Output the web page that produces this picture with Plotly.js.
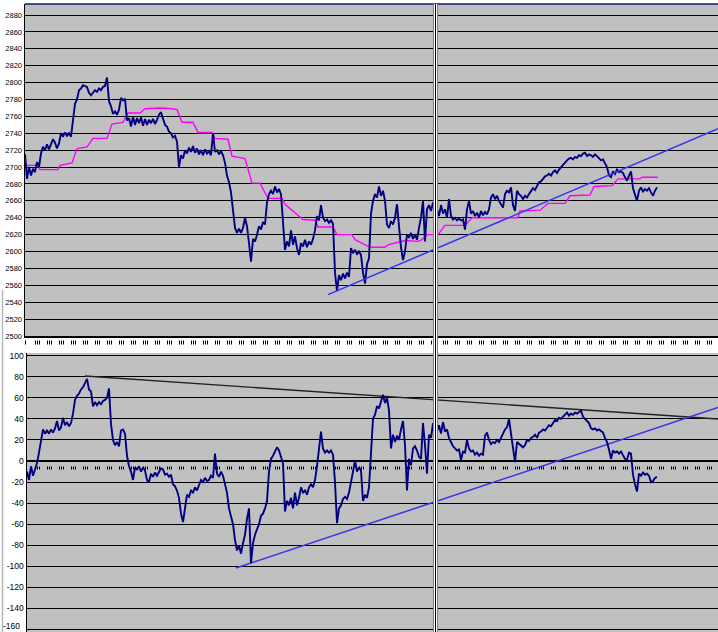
<!DOCTYPE html>
<html>
<head>
<meta charset="utf-8">
<script src="https://cdn.plot.ly/plotly-3.0.1.min.js"></script>
<style>
  html, body { margin: 0; padding: 0; background: #ffffff; }
  #chart { width: 718px; height: 632px; }
</style>
</head>
<body>
<div id="chart"></div>
<script>
// ---- Data (x = session index, 1 unit per 2 px of the original) ----
// Upper panel: index level (navy), one value per session starting at session 0
const indexLevel = [
  2715,2686,2700,2690,2698,2694,2706,2700,2716,2724,2720,2727,2721,2726,2733,2729,2722,2728,2740,2736,2741,2737,2740,2736,
  2760,2775,2780,2791,2793,2797,2796,2795,2788,2785,2788,2791,2789,2793,2791,2795,2796,2806,2778,2772,2763,2766,2762,2768,
  2782,2779,2781,2755,2758,2748,2760,2750,2758,2752,2759,2749,2757,2750,2756,2752,2757,2751,2756,2762,2765,2758,2750,2748,
  2742,2740,2735,2737,2730,2700,2714,2710,2720,2716,2723,2718,2725,2717,2722,2715,2720,2714,2721,2716,2719,2714,2740,2718,
  2720,2715,2719,2714,2705,2690,2682,2670,2645,2628,2622,2627,2622,2628,2640,2630,2610,2588,2615,2612,2620,2630,2626,2635,
  2632,2658,2668,2672,2668,2677,2670,2674,2668,2640,2602,2612,2606,2625,2608,2618,2604,2596,2610,2606,2614,2605,2612,2608,
  2615,2625,2642,2637,2655,2640,2636,2638,2634,2637,2633,2575,2553,2572,2566,2574,2568,2575,2570,2604,2598,2602,2597,2600,
  2596,2575,2562,2585,2592,2645,2660,2668,2664,2677,2666,2672,2660,2632,2628,2636,2632,2640,2656,2630,2605,2590,2600,2620,
  2617,2622,2615,2620,2614,2628,2640,2660,2612,2650,2655,2648,2658,2655,2650,2642,2655,2645,2650,2640,2662,2642,2638,2640,
  2637,2639,2637,2638,2626,2650,2660,2645,2648,2642,2646,2640,2648,2643,2647,2644,2650,2664,2668,2662,2666,2660,2655,2652,
  2668,2672,2670,2676,2655,2648,2672,2668,2666,2662,2666,2664,2668,2672,2675,2673,2678,2682,2683,2686,2689,2690,2692,2690,
  2694,2696,2693,2697,2700,2703,2706,2708,2710,2711,2709,2712,2711,2714,2713,2716,2717,2713,2715,2714,2712,2715,2713,2710,
  2708,2709,2704,2700,2690,2688,2695,2692,2697,2694,2695,2693,2688,2684,2690,2695,2675,2668,2660,2672,2676,2671,2674,2672,
  2675,2670,2666,2672,2676
];

// Upper panel: stepped average (magenta)
const avgX = [0,6.5,7.5,16.5,17.5,23.5,26,31,34,41,43.5,49,51.5,57.5,60,67.5,73.5,76,78.5,84,
  86.5,93.5,95,101.5,103.5,110,113.5,117.5,121.5,128.5,130,139,145,146.5,154,156,163.5,165,172.5,180,
  181.5,190,196.5,198.5,201,206.5,210,220,223.5,246.5,247.5,257.5,261.5,270,272.5,282.5,284.5,293.5,296.5,307.5,
  308.5,316.5];
const avgY = [2702,2702,2697,2697,2702,2705,2722,2724,2734,2734,2751,2753,2764,2764,2769,2770,2769,2768,2753,2753,
  2741,2741,2734,2733,2713,2710,2681,2681,2663,2663,2656,2638,2637,2629,2629,2620,2620,2614,2605,2605,
  2608,2613,2612,2614,2620,2620,2631,2631,2640,2640,2648,2649,2657,2657,2666,2667,2677,2678,2686,2686,
  2688,2688];

// Upper panel trend line
const upTrendX = [151.5, 346.5];
const upTrendY = [2549, 2745.5];

// Lower panel: oscillator (navy), starting at session 1
const oscStart = 1;
const oscillator = [
  -10,-18,-5,-14,-8,-2,8,18,30,26,29,26,30,27,31,38,29,32,41,34,37,33,36,45,
  58,62,64,68,70,74,78,68,66,52,56,53,56,54,57,58,60,69,35,20,15,18,14,29,
  30,26,5,-5,-10,-18,-6,-8,-5,-10,-6,-9,-18,-20,-12,-15,-11,-14,-10,-7,-8,-13,-12,-15,
  -13,-22,-24,-28,-35,-50,-58,-42,-32,-34,-28,-30,-25,-28,-22,-18,-20,-16,-19,-18,-14,-16,7,-12,
  -15,-10,-14,-22,-30,-45,-52,-60,-75,-85,-80,-88,-78,-70,-55,-45,-97,-78,-70,-65,-60,-52,-50,-45,
  -38,-10,2,5,10,13,10,5,-2,-48,-38,-42,-35,-45,-30,-42,-35,-25,-30,-28,-32,-25,-22,-25,
  -18,-5,12,28,12,8,10,8,10,6,-20,-59,-45,-42,-36,-34,-36,-30,-20,-8,0,-10,-6,-9,
  -38,-32,-35,-25,12,40,44,52,50,57,63,55,60,48,12,25,18,24,20,30,38,15,-28,2,
  -4,12,14,10,4,2,36,15,-12,25,22,36,26,28,34,26,37,28,30,22,17,14,12,10,
  11,1,9,8,20,12,9,10,6,8,5,7,6,24,27,20,16,18,17,20,18,22,25,30,
  32,40,26,12,-1,18,16,14,13,15,20,19,22,23,25,22,27,28,30,29,32,34,33,36,
  39,38,41,40,42,44,46,43,45,44,46,45,47,48,42,40,37,36,31,30,31,29,30,28,
  27,22,18,11,2,10,8,9,7,9,6,2,1,8,7,-13,-22,-29,-12,-14,-11,-13,-12,-14,
  -20,-19,-16,-15
];

// Lower panel trend lines
const resistX = [30, 346.5];
const resistY = [80.7, 39.9];
const supportX = [105.5, 346.5];
const supportY = [-101.6, 50.8];

// Tick labels
const upTickVals = [2880,2860,2840,2820,2800,2780,2760,2740,2720,2700,2680,2660,2640,2620,2600,2580,2560,2540,2520,2500];
const upTickText = upTickVals.map(String);
const lowTickVals = [100,80,60,40,20,0,-20,-40,-60,-80,-100,-120,-140];
const lowTickText = ['100','80','60','40','20','0','-20','-40','-60','-80','-100','-120','-140'];
const lowEdgeLabel = '-160'; // bottom label, sits at the window edge

// Session tick marks on the category axes (groups of sessions)
const sessionTicks = [0];
for (let w = 0; w * 6 + 5 < 346; w++) {
  [0, 1, 2].forEach(o => sessionTicks.push(w * 6 + 5 + o));
}

// ---- Geometry helpers (pixel -> paper) ----
const W = 718, H = 632, L = 25;
const px = v => (v - L) / (W - L);
const py = v => (H - v) / H;
const XR = [0, 346.5];
const Y1R = [2500, 2893.1], Y1top = 4, Y1bot = 336;
const Y2R = [-162.4, 102.6], Y2top = 353;

// ---- Build traces ----
const idxX = indexLevel.map((_, i) => i);
const oscX = oscillator.map((_, i) => i + oscStart);
const NAVY = '#000080';

const traces = [
  { x: avgX, y: avgY, xaxis: 'x', yaxis: 'y', mode: 'lines', line: { color: '#FF00FF', width: 1.4 }, hoverinfo: 'skip' },
  { x: idxX, y: indexLevel, xaxis: 'x', yaxis: 'y', mode: 'lines', line: { color: NAVY, width: 1.9 }, hoverinfo: 'skip' },
  { x: upTrendX, y: upTrendY, xaxis: 'x', yaxis: 'y', mode: 'lines', line: { color: '#3535F0', width: 1.5 }, hoverinfo: 'skip' },
  { x: resistX, y: resistY, xaxis: 'x2', yaxis: 'y2', mode: 'lines', line: { color: '#222222', width: 1.4 }, hoverinfo: 'skip' },
  { x: supportX, y: supportY, xaxis: 'x2', yaxis: 'y2', mode: 'lines', line: { color: '#3535F0', width: 1.5 }, hoverinfo: 'skip' },
  { x: oscX, y: oscillator, xaxis: 'x2', yaxis: 'y2', mode: 'lines', line: { color: NAVY, width: 1.9 }, hoverinfo: 'skip' }
];

// Category-axis tick marks: short vertical strokes placed through the x scales
const tickShapes = [];
sessionTicks.forEach(v => {
  const xv = v + 0.25; // centre on a device pixel
  tickShapes.push({ type: 'line', xref: 'x', yref: 'paper', x0: xv, x1: xv, y0: py(344.5), y1: py(340.5),
    line: { color: '#000000', width: 1 } });
  if (v >= 1) {
    tickShapes.push({ type: 'line', xref: 'x2', yref: 'paper', x0: xv, x1: xv, y0: py(469.5), y1: py(466.5),
      line: { color: '#000000', width: 1 } });
  }
});

const font = { family: 'Liberation Sans, Arial, sans-serif', color: '#000000' };

const layout = {
  width: W, height: H,
  margin: { l: L, r: 0, t: 0, b: 0, pad: 0 },
  paper_bgcolor: '#FFFFFF',
  plot_bgcolor: '#C0C0C0',
  showlegend: false,
  font: font,
  xaxis: {
    domain: [0, 1], range: XR, anchor: 'y',
    showgrid: false, zeroline: false, showticklabels: false, ticks: '',
    showline: true, linecolor: '#000000', linewidth: 2
  },
  yaxis: {
    domain: [py(Y1bot), py(Y1top)], range: Y1R, anchor: 'x',
    tickmode: 'array', tickvals: upTickVals, ticktext: upTickText,
    tickfont: Object.assign({ size: 7.5 }, font),
    showgrid: true, gridcolor: '#000000', gridwidth: 1,
    zeroline: false, showline: true, linecolor: '#000000', linewidth: 1.5, ticks: ''
  },
  xaxis2: {
    domain: [px(27), 1], range: [1, 346.5], anchor: 'y2',
    showgrid: false, zeroline: false, showticklabels: false, ticks: '', showline: false
  },
  yaxis2: {
    domain: [0, py(Y2top)], range: Y2R, anchor: 'x2',
    tickmode: 'array', tickvals: lowTickVals, ticktext: lowTickText,
    tickfont: Object.assign({ size: 8.5 }, font),
    showgrid: true, gridcolor: '#000000', gridwidth: 1,
    zeroline: true, zerolinecolor: '#000000', zerolinewidth: 2,
    showline: true, linecolor: '#000000', linewidth: 1.5, ticks: ''
  },
  annotations: [
    { text: lowEdgeLabel, xref: 'paper', yref: 'paper', x: px(20.5), y: 0, xanchor: 'right', yanchor: 'bottom',
      showarrow: false, font: Object.assign({ size: 8.5 }, font), borderpad: 0 }
  ],
  shapes: tickShapes.concat([
    // -160 gridline
    { type: 'line', xref: 'x2', yref: 'y2', x0: 1, x1: 346.5, y0: -160, y1: -160, line: { color: '#000000', width: 1 } },
    // top frame line
    { type: 'line', xref: 'paper', yref: 'paper', x0: 0, x1: 1, y0: py(4), y1: py(4), line: { color: '#0A1A6A', width: 1.5 } },
    // window split
    { type: 'rect', xref: 'paper', yref: 'paper', x0: px(433), x1: px(438), y0: 0, y1: py(4), fillcolor: '#FFFFFF', line: { width: 0 } },
    { type: 'line', xref: 'paper', yref: 'paper', x0: px(433.5), x1: px(433.5), y0: 0, y1: py(4), line: { color: '#808080', width: 1 } },
    { type: 'line', xref: 'paper', yref: 'paper', x0: px(435.5), x1: px(435.5), y0: 0, y1: py(4), line: { color: '#000000', width: 1 } },
    { type: 'line', xref: 'paper', yref: 'paper', x0: px(437.5), x1: px(437.5), y0: 0, y1: py(4), line: { color: '#808080', width: 1 } },
    // left window edge
    { type: 'line', xref: 'paper', yref: 'paper', x0: px(2.5), x1: px(2.5), y0: 0, y1: py(290), line: { color: '#B8B8B8', width: 1.5 } }
  ])
};

Plotly.newPlot('chart', traces, layout, { staticPlot: true, displayModeBar: false });
</script>
</body>
</html>
